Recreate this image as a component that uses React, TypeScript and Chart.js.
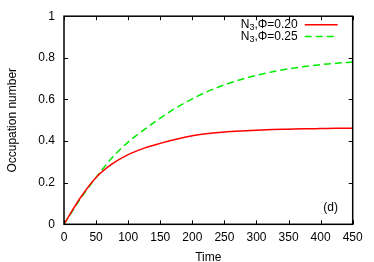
import React, { useEffect, useRef } from "react";
import { Chart, registerables } from "chart.js";

Chart.register(...registerables);

const times = [0, 25, 50, 75, 100, 125, 150, 175, 200, 225, 250, 275, 300, 325, 350, 375, 400, 425, 450];
const red020 = [0, 0.125, 0.225, 0.29, 0.335, 0.366, 0.389, 0.409, 0.425, 0.436, 0.443, 0.448, 0.452, 0.455, 0.457, 0.459, 0.46, 0.461, 0.461];
const green025 = [0, 0.12, 0.225, 0.32, 0.395, 0.455, 0.51, 0.56, 0.603, 0.64, 0.67, 0.695, 0.716, 0.733, 0.747, 0.758, 0.767, 0.774, 0.78];
const xTicks = [0, 50, 100, 150, 200, 250, 300, 350, 400, 450];
const yTicks = [0, 0.2, 0.4, 0.6, 0.8, 1];
const seriesLabels = ["0.20", "0.25"];
const seriesColors = ["#ff0000", "#00ee00"];
const panelLabel = "(d)";
const xTitle = "Time";
const yTitle = "Occupation number";

const FONT = "'Liberation Sans', Arial, sans-serif";

const decorPlugin = {
  id: "decor",
  afterDraw(chart: any) {
    const { ctx, chartArea: a, scales } = chart;
    const xs = scales.x;
    const ys = scales.y;
    ctx.save();
    ctx.strokeStyle = "#000";
    ctx.lineWidth = 1;
    const tl = 4;
    ctx.beginPath();
    xTicks.forEach((t) => {
      const px = Math.round(xs.getPixelForValue(t)) + 0.5;
      ctx.moveTo(px, a.bottom);
      ctx.lineTo(px, a.bottom - tl);
      ctx.moveTo(px, a.top);
      ctx.lineTo(px, a.top + tl);
    });
    yTicks.forEach((t) => {
      const py = Math.round(ys.getPixelForValue(t)) + 0.5;
      ctx.moveTo(a.left, py);
      ctx.lineTo(a.left + tl, py);
      ctx.moveTo(a.right, py);
      ctx.lineTo(a.right - tl, py);
    });
    ctx.stroke();
    ctx.lineWidth = 1.5;
    ctx.strokeRect(a.left, a.top, a.right - a.left, a.bottom - a.top);

    // legend
    const textRight = a.right - 55;
    const lineX0 = a.right - 48;
    const lineX1 = a.right - 15;
    seriesLabels.forEach((lab, i) => {
      const y = a.top + 8.5 + i * 11.7;
      ctx.font = `12px ${FONT}`;
      ctx.textBaseline = "middle";
      const rest = ",Φ=" + lab;
      const wN = ctx.measureText("N").width;
      const wRest = ctx.measureText(rest).width;
      ctx.font = `9px ${FONT}`;
      const wSub = ctx.measureText("3").width;
      let x = textRight - wN - wSub - wRest;
      ctx.fillStyle = "#000";
      ctx.textAlign = "left";
      ctx.font = `12px ${FONT}`;
      ctx.fillText("N", x, y);
      x += wN;
      ctx.font = `9px ${FONT}`;
      ctx.fillText("3", x, y + 3);
      x += wSub;
      ctx.font = `12px ${FONT}`;
      ctx.fillText(rest, x, y);
      ctx.strokeStyle = seriesColors[i];
      ctx.lineWidth = 1.5;
      ctx.setLineDash(i === 1 ? [7, 4] : []);
      ctx.beginPath();
      ctx.moveTo(lineX0, y);
      ctx.lineTo(lineX1, y);
      ctx.stroke();
      ctx.setLineDash([]);
    });

    ctx.fillStyle = "#000";
    ctx.font = `12px ${FONT}`;
    ctx.textAlign = "center";
    ctx.textBaseline = "middle";
    ctx.fillText(panelLabel, a.right - 22, a.bottom - 17);
    ctx.restore();
  },
};

export default function App() {
  const ref = useRef<HTMLCanvasElement>(null);
  useEffect(() => {
    if (!ref.current) return;
    const chart = new Chart(ref.current, {
      type: "line",
      data: {
        datasets: [
          {
            label: "N3,Φ=" + seriesLabels[0],
            data: times.map((t, i) => ({ x: t, y: red020[i] })),
            borderColor: seriesColors[0],
            borderWidth: 1.5,
            pointRadius: 0,
            cubicInterpolationMode: "monotone",
            fill: false,
          },
          {
            label: "N3,Φ=" + seriesLabels[1],
            data: times.map((t, i) => ({ x: t, y: green025[i] })),
            borderColor: seriesColors[1],
            borderWidth: 1.5,
            borderDash: [7, 4],
            pointRadius: 0,
            cubicInterpolationMode: "monotone",
            fill: false,
          },
        ],
      },
      options: {
        animation: false,
        responsive: false,
        maintainAspectRatio: false,
        layout: { padding: { left: 0, top: 14.7, right: 21.3, bottom: 0 } },
        plugins: { legend: { display: false }, tooltip: { enabled: false } },
        scales: {
          x: {
            type: "linear",
            min: 0,
            max: 450,
            afterFit: (s: any) => {
              s.height = 37.7;
            },
            afterBuildTicks: (s: any) => {
              s.ticks = xTicks.map((v) => ({ value: v }));
            },
            grid: { display: false, drawTicks: false },
            border: { display: false },
            ticks: {
              padding: 6,
              color: "#000",
              font: { family: FONT, size: 12 },
              maxRotation: 0,
              callback: (v: any) => String(v),
            },
            title: {
              display: true,
              text: xTitle,
              color: "#000",
              font: { family: FONT, size: 12 },
              padding: { top: 0, bottom: -3 },
            },
          },
          y: {
            type: "linear",
            min: 0,
            max: 1,
            afterFit: (s: any) => {
              s.width = 64;
            },
            afterBuildTicks: (s: any) => {
              s.ticks = yTicks.map((v) => ({ value: v }));
            },
            grid: { display: false, drawTicks: false },
            border: { display: false },
            ticks: {
              padding: 9,
              color: "#000",
              font: { family: FONT, size: 12 },
              callback: (v: any) => String(Math.round(v * 10) / 10),
            },
            title: {
              display: true,
              text: yTitle,
              color: "#000",
              font: { family: FONT, size: 12 },
              padding: { top: 5, bottom: 0 },
            },
          },
        },
      },
      plugins: [decorPlugin],
    } as any);
    return () => chart.destroy();
  }, []);
  return (
    <div style={{ position: "absolute", left: 0, top: 0, width: 374, height: 262, background: "#fff" }}>
      <canvas ref={ref} width={374} height={262} style={{ width: 374, height: 262 }} />
    </div>
  );
}
